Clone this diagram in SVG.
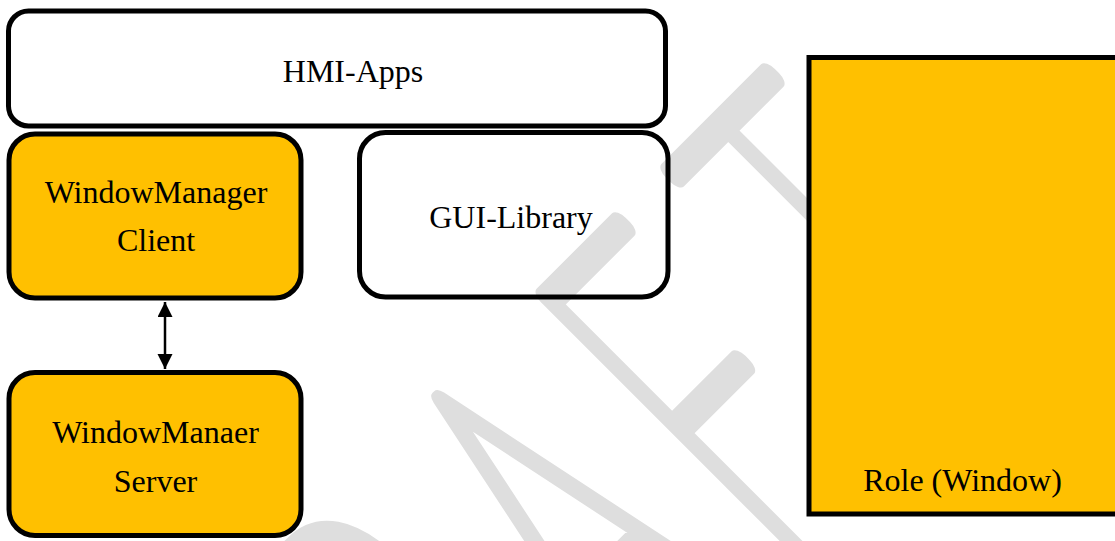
<svg xmlns="http://www.w3.org/2000/svg" width="1115" height="541" viewBox="0 0 1115 541">
  <defs>
    <style>
      .box { stroke: #000; stroke-width: 5; }
      .white { fill: none; }
      .orange { fill: #FFC000; }
      .lbl { font-family: "Liberation Serif", "Times New Roman", serif; font-size: 32px; fill: #000; text-anchor: middle; }
      .wm { font-family: Lato, Roboto, "DejaVu Sans", sans-serif; font-weight: 100; font-size: 522px; fill: #dedede; stroke: #dedede; stroke-width: 26; stroke-linejoin: round; stroke-linecap: round; }
    </style>
    <marker id="ah" markerUnits="userSpaceOnUse" markerWidth="16" markerHeight="16" refX="15" refY="7.5" orient="auto-start-reverse" viewBox="0 0 16 16">
      <path d="M0,0 L15,7.5 L0,15 z" fill="#000"/>
    </marker>
  </defs>
  <rect width="1115" height="541" fill="#fff"/>
  <g id="watermark">
    <text class="wm" transform="rotate(-45) scale(0.5,1)" y="962" vector-effect="non-scaling-stroke"><tspan x="-880">D</tspan><tspan x="-500">R</tspan><tspan x="-108">A</tspan><tspan x="290">F</tspan><tspan x="696">T</tspan></text>
  </g>
  <g id="hmi-apps">
    <rect class="box white" x="8.5" y="11" width="657" height="115" rx="20"/>
    <text class="lbl" x="353" y="82">HMI-Apps</text>
  </g>
  <g id="wm-client">
    <rect class="box orange" x="9" y="134" width="292" height="164" rx="26"/>
    <text class="lbl" x="156" y="203">WindowManager</text>
    <text class="lbl" x="156" y="251">Client</text>
  </g>
  <g id="gui-library">
    <rect class="box white" x="359.5" y="132.5" width="308.5" height="164.5" rx="26"/>
    <text class="lbl" x="511" y="228">GUI-Library</text>
  </g>
  <g id="wm-server">
    <rect class="box orange" x="9" y="372.5" width="292" height="163" rx="26"/>
    <text class="lbl" x="155.5" y="443">WindowManaer</text>
    <text class="lbl" x="155.5" y="491.5">Server</text>
  </g>
  <g id="role-window">
    <rect class="box orange" x="809" y="57.5" width="330" height="456.5"/>
    <text class="lbl" x="962.5" y="491">Role (Window)</text>
  </g>
  <g id="connectors">
    <line x1="165" y1="302" x2="165" y2="369" stroke="#000" stroke-width="2.5" marker-start="url(#ah)" marker-end="url(#ah)"/>
  </g>
</svg>
